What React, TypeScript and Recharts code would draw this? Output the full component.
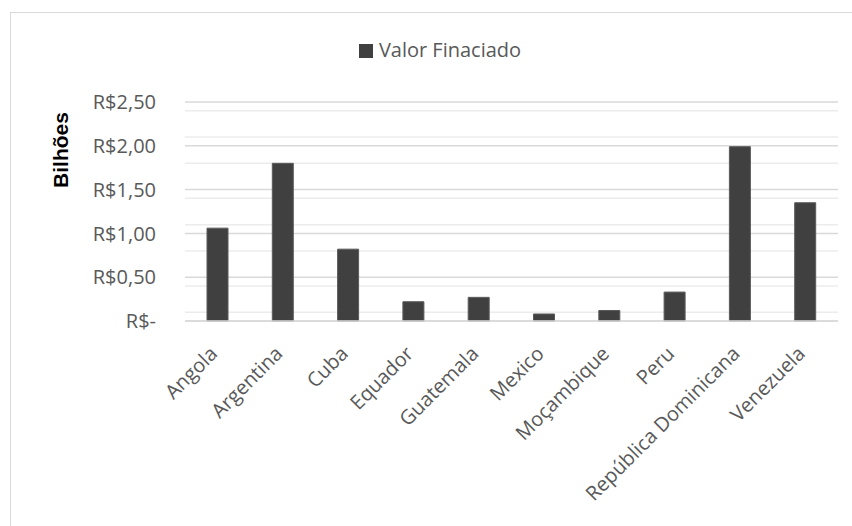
import React from "react";
import {
  BarChart,
  Bar,
  XAxis,
  YAxis,
  CartesianGrid,
  Legend,
  Label,
} from "recharts";

const countries = [
  "Angola",
  "Argentina",
  "Cuba",
  "Equador",
  "Guatemala",
  "Mexico",
  "Moçambique",
  "Peru",
  "República Dominicana",
  "Venezuela",
];
const financed = [1.06, 1.8, 0.82, 0.22, 0.27, 0.08, 0.12, 0.33, 1.99, 1.35];
const majorTicks = [0, 0.5, 1, 1.5, 2, 2.5];
const minorTicks = [
  0.1, 0.2, 0.3, 0.4, 0.6, 0.7, 0.8, 0.9, 1.1, 1.2, 1.3, 1.4, 1.6, 1.7, 1.8,
  1.9, 2.1, 2.2, 2.3, 2.4,
];

const data = countries.map((name, i) => ({ name, value: financed[i] }));

const FONT = "'Open Sans', sans-serif";
const TEXT = "#595959";

const money = (v: number) =>
  v === 0 ? "R$-" : "R$" + v.toFixed(2).replace(".", ",");

const XTick = ({ x, y, payload }: any) => (
  <g transform={`translate(${x + 1},${y + 34})`}>
    <text
      x={0}
      y={0}
      textAnchor="end"
      transform="rotate(-45)"
      fill={TEXT}
      fontSize={20}
      fontFamily={FONT}
    >
      {payload.value}
    </text>
  </g>
);

const LegendBox = ({ payload }: any) => (
  <div style={{ textAlign: "center", fontFamily: FONT, fontSize: 20, lineHeight: "24px" }}>
    {(payload || []).map((p: any) => (
      <span key={p.value} style={{ color: TEXT }}>
        <span
          style={{
            display: "inline-block",
            width: 14,
            height: 14,
            background: "#404040",
            marginRight: 6,
            verticalAlign: -1,
          }}
        />
        {p.value}
      </span>
    ))}
  </div>
);

export default function App() {
  return (
    <div style={{ position: "absolute", left: 0, top: 0, width: 852, height: 526, background: "#fff", overflow: "hidden" }}>
      <div
        style={{
          position: "absolute",
          left: 10,
          top: 12,
          width: 860,
          height: 540,
          border: "1px solid #d9d9d9",
        }}
      />
      <BarChart
        width={852}
        height={526}
        data={data}
        margin={{ top: 78, right: 14, left: 0, bottom: 0 }}
        barSize={21}
      >
        <CartesianGrid
          vertical={false}
          horizontalValues={minorTicks}
          stroke="#ececec"
          strokeWidth={1.5}
        />
        <CartesianGrid
          vertical={false}
          horizontalValues={majorTicks}
          stroke="#d9d9d9"
          strokeWidth={1.5}
        />
        <XAxis
          dataKey="name"
          interval={0}
          height={205}
          tickSize={0}
          tickMargin={0}
          tickLine={false}
          axisLine={{ stroke: "#d9d9d9", strokeWidth: 1.5 }}
          tick={<XTick />}
        />
        <YAxis
          width={185}
          domain={[0, 2.5]}
          ticks={majorTicks}
          tickFormatter={money}
          axisLine={false}
          tickLine={false}
          tickSize={0}
          tickMargin={29}
          tick={{ fill: TEXT, fontSize: 20, fontFamily: FONT }}
        >
          <Label
            content={({ viewBox }: any) => (
              <text
                x={viewBox.x + 68}
                y={viewBox.y + 48}
                transform={`rotate(-90, ${viewBox.x + 68}, ${viewBox.y + 48})`}
                textAnchor="middle"
                fill="#000"
                fontWeight="bold"
                fontSize={21}
                fontFamily="'Liberation Sans', Arial, sans-serif"
              >
                Bilhões
              </text>
            )}
          />
        </YAxis>
        <Legend
          verticalAlign="top"
          content={<LegendBox />}
          wrapperStyle={{ top: 38, left: 28, width: 824 }}
        />
        <Bar
          dataKey="value"
          name="Valor Finaciado"
          fill="#404040"
          stroke="#5a5a5a"
          strokeWidth={1}
          isAnimationActive={false}
        />
      </BarChart>
    </div>
  );
}
